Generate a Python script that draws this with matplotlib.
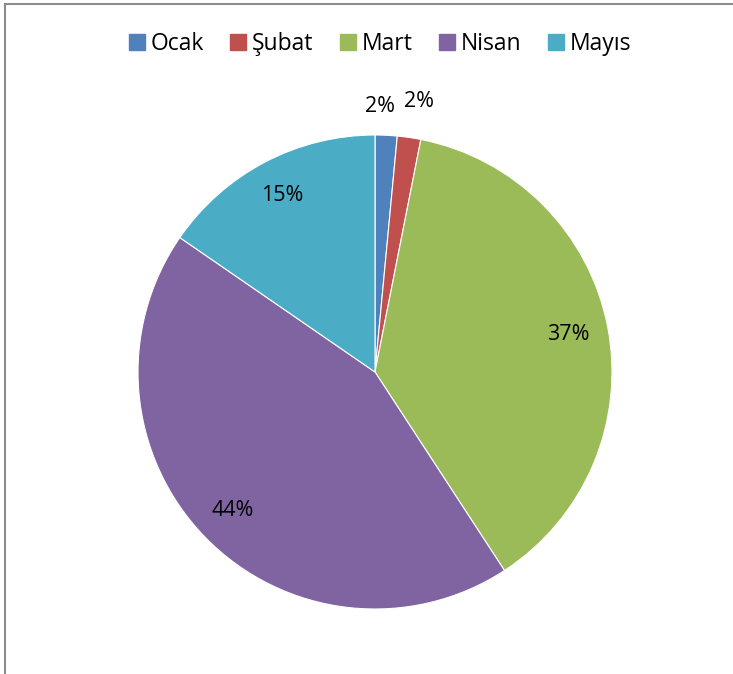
import numpy as np
import matplotlib.pyplot as plt
from matplotlib.lines import Line2D

# Veriler
aylar = ['Ocak', 'Şubat', 'Mart', 'Nisan', 'Mayıs']
degerler = [1.5, 1.6, 37.7, 43.8, 15.4]
etiketler = ['2%', '2%', '37%', '44%', '15%']
renkler = ['#4F81BD', '#C0504D', '#9BBB59', '#8064A2', '#4BACC6']

plt.rcParams['font.family'] = ['Open Sans', 'DejaVu Sans']

W, H = 733, 674
fig = plt.figure(figsize=(W / 100, H / 100), dpi=100)

# pasta ekseni: merkez (375, 372), yaricap 237 px
cx, cy, r = 375, 372, 237
ax = fig.add_axes([(cx - r) / W, (H - cy - r) / H, 2 * r / W, 2 * r / H])
wedges, _ = ax.pie(degerler, colors=renkler, startangle=90, counterclock=False,
                   radius=1, wedgeprops=dict(edgecolor='white', linewidth=0.8))
ax.set_xlim(-1, 1)
ax.set_ylim(-1, 1)
ax.set_aspect('equal')
ax.axis('off')

# yuzde etiketleri (kucuk dilimler disarida)
uzaklik = [1.12, 1.155, 0.83, 0.84, 0.84]
kayma = [1.6, -1.0, 0, 0, 0]
for w, txt, d, k in zip(wedges, etiketler, uzaklik, kayma):
    aci = np.deg2rad((w.theta1 + w.theta2) / 2 + k)
    ax.text(d * np.cos(aci), d * np.sin(aci), txt, ha='center', va='center',
            fontsize=15.5, color='black')

# lejant
tutamac = [Line2D([], [], marker='s', linestyle='', markersize=11,
                  markerfacecolor=c, markeredgecolor=c) for c in renkler]
fig.legend(tutamac, aylar, loc='center', bbox_to_anchor=(0.516, 1 - 44 / H),
           ncol=5, frameon=False, fontsize=16.5, handletextpad=0.1,
           columnspacing=1.0, handlelength=1.0)

# cerceve (ust ve sol kenar)
fig.add_artist(Line2D([5 / W, 1], [1 - 4 / H, 1 - 4 / H], color='#8c8c8c', lw=1.5))
fig.add_artist(Line2D([5 / W, 5 / W], [0, 1 - 4 / H], color='#8c8c8c', lw=1.5))

fig.savefig('out.png', dpi=100)
